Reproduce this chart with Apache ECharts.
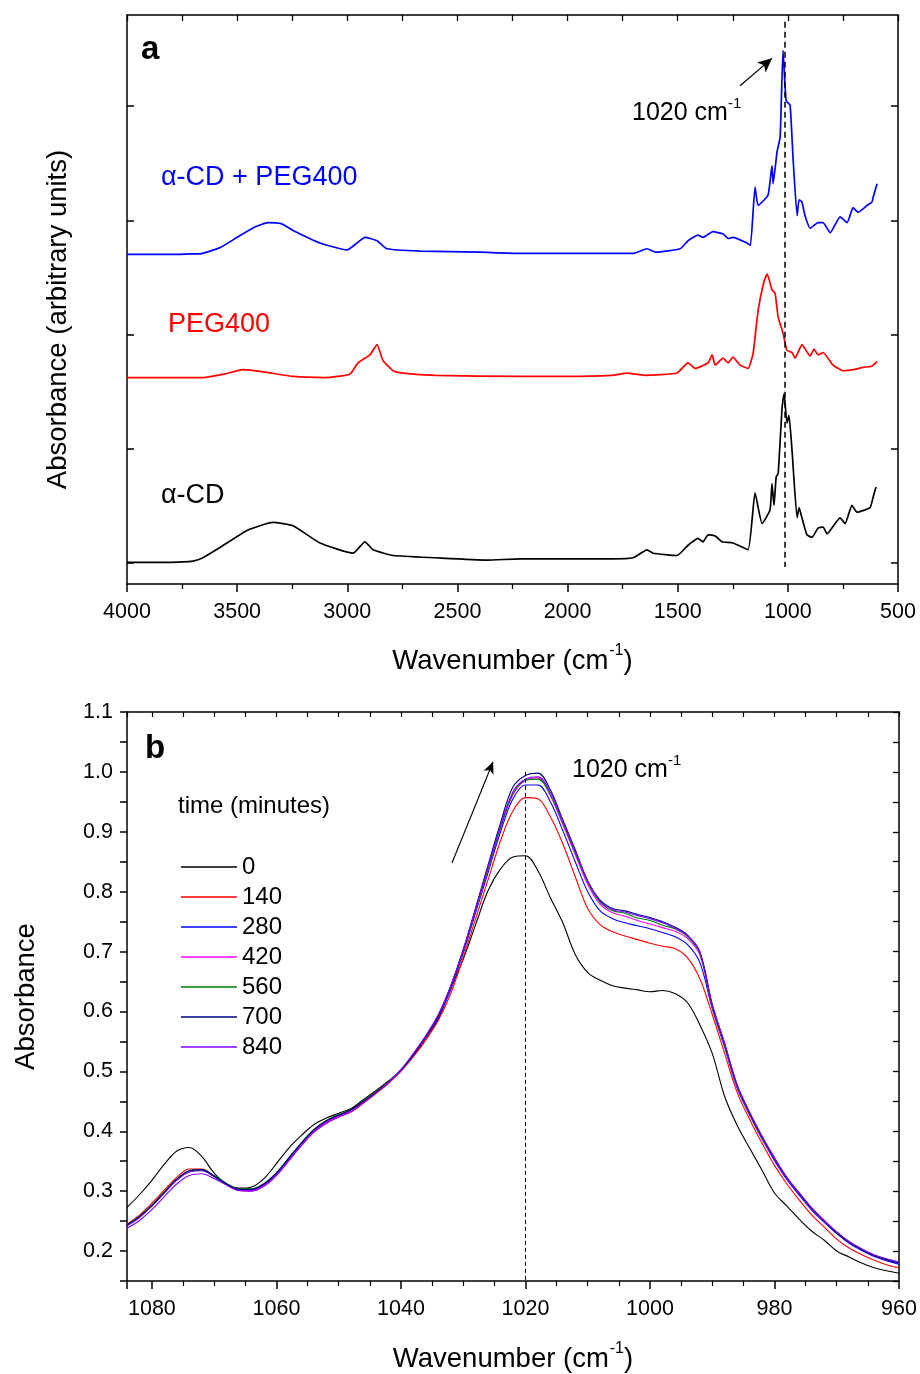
<!DOCTYPE html>
<html><head><meta charset="utf-8">
<script src="https://cdn.jsdelivr.net/npm/echarts@6/dist/echarts.min.js"></script>
<style>html,body{margin:0;padding:0;background:#fff}#c{width:920px;height:1374px}</style>
</head><body><div id="c"></div>
<script>
const FONT = '"Liberation Sans", Arial, Helvetica, sans-serif';

// ---------- Panel a : FTIR spectra (offset, arbitrary units) ----------
const cdPegWn  = [4000,3800,3700,3655,3578,3500,3420,3360,3300,3246,3124,3001,2956,2920,2865,2820,2670,2400,2216,2000,1800,1700,1639,1600,1489,1453,1408,1385,1340,1294,1271,1249,1185,1170,1149,1135,1090,1072,1067,1049,1035,1022,1008,990,976,958,949,936,922,899,863,840,808,763,731,704,681,640,618,613,595];
const cdPegAbs = [2.70,2.70,2.705,2.71,2.76,2.85,2.94,2.98,2.97,2.91,2.80,2.74,2.80,2.85,2.82,2.75,2.73,2.72,2.71,2.71,2.71,2.71,2.75,2.72,2.75,2.82,2.87,2.85,2.90,2.88,2.84,2.85,2.80,2.78,3.29,3.13,3.22,3.48,3.32,3.60,3.73,4.49,4.05,4.01,3.53,3.04,3.18,3.16,3.04,2.93,2.98,2.98,2.89,3.03,2.98,3.11,3.07,3.13,3.16,3.20,3.32];

const pegWn  = [4000,3800,3655,3560,3473,3380,3246,3100,2988,2951,2897,2865,2838,2792,2747,2600,2216,2000,1800,1730,1650,1503,1453,1421,1362,1344,1330,1294,1271,1249,1217,1181,1158,1135,1110,1094,1072,1058,1044,1022,1004,981,967,936,899,881,863,840,795,749,700,659,620,595];
const pegAbs = [1.62,1.62,1.62,1.65,1.69,1.67,1.63,1.62,1.65,1.75,1.82,1.91,1.77,1.68,1.66,1.64,1.63,1.63,1.64,1.66,1.64,1.66,1.75,1.70,1.75,1.82,1.73,1.79,1.75,1.80,1.73,1.70,1.83,2.21,2.45,2.53,2.39,2.36,2.15,2.01,1.86,1.84,1.79,1.91,1.81,1.87,1.82,1.84,1.73,1.68,1.69,1.71,1.72,1.76];

const cdWn  = [4000,3800,3700,3655,3578,3455,3337,3246,3124,2974,2920,2883,2792,2600,2366,2216,2000,1800,1703,1639,1612,1503,1453,1408,1385,1362,1330,1299,1249,1181,1149,1117,1081,1072,1063,1053,1044,1026,1017,1004,995,981,958,949,936,913,890,863,840,822,763,740,709,686,627,613,600];
const cdAbs = [0.00,0.00,0.01,0.04,0.13,0.28,0.35,0.32,0.17,0.08,0.18,0.11,0.06,0.04,0.02,0.03,0.03,0.03,0.04,0.11,0.08,0.06,0.15,0.21,0.18,0.24,0.23,0.18,0.17,0.11,0.61,0.34,0.46,0.69,0.50,0.75,0.78,1.36,1.48,1.22,1.29,0.98,0.39,0.48,0.39,0.24,0.22,0.30,0.31,0.25,0.39,0.34,0.50,0.44,0.48,0.57,0.66];

const xTicksA = [4000,3500,3000,2500,2000,1500,1000,500];

// ---------- Panel b : 1020 cm-1 band vs time ----------
const wnB = [1084,1082,1080,1078,1076,1074,1072,1070,1068,1066,1064,1062,1060,1058,1056,1054,1052,1050,1048,1046,1044,1042,1040,1038,1036,1034,1032,1030,1028,1026,1024,1022,1020,1018,1016,1014,1012,1010,1008,1006,1004,1002,1000,998,996,994,992,990,988,986,984,982,980,978,976,974,972,970,968,966,964,962,960];
const timeLabels = ['0','140','280','420','560','700','840'];
const abs0 = [0.273,0.294,0.318,0.345,0.367,0.373,0.358,0.330,0.312,0.305,0.307,0.321,0.346,0.372,0.393,0.411,0.422,0.430,0.438,0.453,0.468,0.484,0.502,0.525,0.553,0.588,0.638,0.687,0.745,0.802,0.838,0.858,0.860,0.835,0.790,0.748,0.695,0.665,0.652,0.643,0.639,0.636,0.633,0.635,0.630,0.615,0.578,0.530,0.458,0.410,0.372,0.335,0.297,0.275,0.253,0.233,0.218,0.200,0.190,0.180,0.172,0.167,0.163];
const abs140 = [0.245,0.260,0.280,0.302,0.323,0.337,0.337,0.325,0.311,0.302,0.302,0.310,0.327,0.351,0.376,0.399,0.414,0.424,0.432,0.447,0.463,0.480,0.500,0.525,0.553,0.585,0.630,0.690,0.755,0.820,0.885,0.935,0.957,0.955,0.925,0.880,0.825,0.772,0.745,0.733,0.726,0.720,0.714,0.709,0.705,0.690,0.655,0.595,0.530,0.465,0.420,0.380,0.343,0.312,0.285,0.260,0.240,0.220,0.205,0.194,0.185,0.177,0.172];
const abs280 = [0.242,0.256,0.275,0.297,0.318,0.332,0.334,0.324,0.311,0.302,0.302,0.311,0.329,0.354,0.379,0.401,0.416,0.426,0.435,0.449,0.465,0.482,0.502,0.528,0.557,0.590,0.637,0.697,0.765,0.832,0.900,0.955,0.978,0.978,0.950,0.902,0.850,0.800,0.768,0.755,0.748,0.743,0.738,0.732,0.725,0.712,0.682,0.605,0.540,0.472,0.427,0.387,0.351,0.319,0.293,0.268,0.248,0.229,0.213,0.201,0.191,0.184,0.178];
const abs420 = [0.243,0.257,0.276,0.298,0.319,0.333,0.335,0.325,0.311,0.301,0.300,0.309,0.327,0.352,0.377,0.400,0.415,0.425,0.434,0.449,0.465,0.482,0.502,0.528,0.558,0.592,0.640,0.700,0.769,0.838,0.906,0.962,0.986,0.990,0.960,0.912,0.862,0.812,0.779,0.765,0.759,0.752,0.746,0.740,0.734,0.722,0.695,0.607,0.543,0.474,0.428,0.388,0.353,0.321,0.295,0.270,0.249,0.230,0.214,0.202,0.192,0.185,0.180];
const abs560 = [0.244,0.258,0.277,0.299,0.320,0.334,0.336,0.326,0.313,0.304,0.304,0.313,0.331,0.356,0.381,0.403,0.418,0.428,0.436,0.451,0.466,0.483,0.503,0.529,0.559,0.593,0.641,0.701,0.770,0.839,0.907,0.964,0.986,0.988,0.962,0.915,0.865,0.816,0.782,0.768,0.764,0.756,0.752,0.744,0.738,0.725,0.698,0.608,0.544,0.475,0.429,0.389,0.354,0.322,0.296,0.271,0.250,0.231,0.215,0.203,0.193,0.186,0.181];
const abs700 = [0.244,0.258,0.276,0.298,0.320,0.334,0.336,0.325,0.312,0.303,0.303,0.312,0.330,0.355,0.380,0.402,0.417,0.427,0.436,0.450,0.465,0.482,0.502,0.528,0.558,0.593,0.642,0.703,0.773,0.845,0.915,0.975,0.994,0.998,0.970,0.920,0.870,0.818,0.786,0.772,0.768,0.762,0.757,0.750,0.741,0.728,0.700,0.612,0.546,0.477,0.431,0.391,0.355,0.322,0.296,0.271,0.250,0.230,0.214,0.202,0.192,0.185,0.180];
const abs840 = [0.238,0.251,0.269,0.291,0.312,0.326,0.329,0.321,0.310,0.301,0.300,0.308,0.326,0.351,0.376,0.398,0.413,0.424,0.433,0.448,0.464,0.482,0.503,0.530,0.560,0.595,0.643,0.703,0.772,0.842,0.910,0.967,0.988,0.992,0.966,0.918,0.868,0.818,0.784,0.770,0.766,0.760,0.755,0.748,0.739,0.727,0.700,0.612,0.547,0.478,0.432,0.392,0.356,0.323,0.297,0.272,0.251,0.232,0.216,0.204,0.194,0.187,0.182];
const timeColors = ['#000000','#ff0000','#0000ff','#ff00ff','#008000','#000080','#8000ff'];
const xTicksB = [1080,1060,1040,1020,1000,980,960];
const yTicksB = [0.2,0.3,0.4,0.5,0.6,0.7,0.8,0.9,1.0,1.1];

// ---------- build ----------
const pair = (xs, ys) => xs.map((x, i) => [x, ys[i]]);
const axisLine = {show: true, onZero: false, lineStyle: {color: '#000', width: 1.5}};
const supRich = {
  a: {fontSize: 27.5, fontFamily: FONT, color: '#000', lineHeight: 36},
  s: {fontSize: 16, fontFamily: FONT, color: '#000', verticalAlign: 'top', padding: [0, 0, 0, 1]}
};
const wnName = '{a|Wavenumber (cm}{s|-1}{a|)}';
const annRich = {
  a: {fontSize: 25, fontFamily: FONT, fill: '#000', lineHeight: 33},
  s: {fontSize: 15, fontFamily: FONT, fill: '#000', verticalAlign: 'top'}
};

const absB = [abs0, abs140, abs280, abs420, abs560, abs700, abs840];

const series = [
  {name: 'α-CD + PEG400', data: pair(cdPegWn, cdPegAbs), color: '#0000ff'},
  {name: 'PEG400', data: pair(pegWn, pegAbs), color: '#ff0000'},
  {name: 'α-CD', data: pair(cdWn, cdAbs), color: '#000000'}
].map((s, i) => ({
  type: 'line', name: s.name, xAxisIndex: 0, yAxisIndex: 0, data: s.data,
  showSymbol: false, smooth: 0.15, animation: false,
  lineStyle: {color: s.color, width: 1.7}, itemStyle: {color: s.color},
  markLine: i === 2 ? {
    silent: true, animation: false, symbol: ['none', 'none'], label: {show: false},
    data: [
      [{coord: [1014, 4.74], lineStyle: {type: [6, 4], color: '#000', width: 1.5}}, {coord: [1014, -0.04]}],
      [{coord: [1217, 4.18], symbol: 'none', lineStyle: {type: 'solid', color: '#000', width: 1.2}}, {coord: [1072, 4.42], symbol: 'arrow', symbolSize: [10, 14]}]
    ]
  } : undefined
}));

timeLabels.forEach((t, k) => {
  series.push({
    type: 'line', name: t, xAxisIndex: 2, yAxisIndex: 2, data: pair(wnB, absB[k]),
    showSymbol: false, smooth: 0.35, animation: false,
    lineStyle: {color: timeColors[k], width: 1.1}, itemStyle: {color: timeColors[k]},
    markLine: k === 0 ? {
      silent: true, animation: false, symbol: ['none', 'none'], label: {show: false},
      data: [
        [{coord: [1020, 1.0], lineStyle: {type: [4, 3], color: '#000', width: 1}}, {coord: [1020, 0.15]}],
        [{coord: [1031.8, 0.848], symbol: 'none', lineStyle: {type: 'solid', color: '#000', width: 1.1}}, {coord: [1025.2, 1.017], symbol: 'arrow', symbolSize: [8, 12]}]
      ]
    } : undefined
  });
});

const option = {
  animation: false,
  backgroundColor: '#fff',
  textStyle: {fontFamily: FONT},
  grid: [
    {left: 127, top: 15, width: 771, height: 569},
    {left: 127, top: 712, width: 772, height: 569}
  ],
  xAxis: [
    {gridIndex: 0, type: 'value', min: 500, max: 4000, interval: 500, inverse: true, position: 'bottom',
     axisLine, splitLine: {show: false},
     axisTick: {inside: false, length: 8, lineStyle: {color: '#000', width: 1.5}},
     minorTick: {show: true, splitNumber: 2, length: 5, lineStyle: {color: '#000', width: 1.3}},
     axisLabel: {fontSize: 21.5, color: '#000', fontFamily: FONT, margin: 17,
                 formatter: v => xTicksA.includes(v) ? String(v) : ''},
     name: wnName, nameLocation: 'middle', nameGap: 59, nameTextStyle: {rich: supRich}},
    {gridIndex: 0, type: 'value', min: 500, max: 4000, interval: 250, inverse: true, position: 'top',
     axisLine, splitLine: {show: false}, axisLabel: {show: false},
     axisTick: {inside: true, length: 6, lineStyle: {color: '#000', width: 1.3}}},
    {gridIndex: 1, type: 'value', min: 960, max: 1084, interval: 20, inverse: true, position: 'bottom',
     axisLine, splitLine: {show: false},
     axisTick: {inside: false, length: 8, lineStyle: {color: '#000', width: 1.5}},
     minorTick: {show: true, splitNumber: 4, length: 5, lineStyle: {color: '#000', width: 1.2}},
     axisLabel: {fontSize: 21.5, color: '#000', fontFamily: FONT, margin: 17,
                 formatter: v => xTicksB.includes(v) ? String(v) : ''},
     name: wnName, nameLocation: 'middle', nameGap: 60, nameTextStyle: {rich: supRich}},
    {gridIndex: 1, type: 'value', min: 960, max: 1084, interval: 5, inverse: true, position: 'top',
     axisLine, splitLine: {show: false}, axisLabel: {show: false},
     axisTick: {inside: true, length: 5, lineStyle: {color: '#000', width: 1.2}}}
  ],
  yAxis: [
    {gridIndex: 0, type: 'value', min: -0.19, max: 4.8, position: 'left',
     axisLine, splitLine: {show: false},
     axisLabel: {show: false, customValues: [0, 1, 2, 3, 4]},
     axisTick: {inside: true, length: 7, customValues: [0, 1, 2, 3, 4], lineStyle: {color: '#000', width: 1.5}},
     name: 'Absorbance (arbitrary units)', nameLocation: 'middle', nameGap: 55,
     nameTextStyle: {fontSize: 27.5, color: '#000', fontFamily: FONT, padding: [0, 40, 0, 0]}},
    {gridIndex: 0, type: 'value', min: -0.19, max: 4.8, position: 'right',
     axisLine, splitLine: {show: false},
     axisLabel: {show: false, customValues: [0, 1, 2, 3, 4]},
     axisTick: {inside: true, length: 7, customValues: [0, 1, 2, 3, 4], lineStyle: {color: '#000', width: 1.5}}},
    {gridIndex: 1, type: 'value', min: 0.15, max: 1.1, interval: 0.05, position: 'left',
     axisLine, splitLine: {show: false},
     axisTick: {inside: false, length: 7, lineStyle: {color: '#000', width: 1.5}},
     axisLabel: {fontSize: 21.5, color: '#000', fontFamily: FONT, margin: 14,
                 formatter: v => { const r = Math.round(v * 10) / 10; return (Math.abs(v - r) < 1e-6 && yTicksB.some(t => Math.abs(t - r) < 1e-6)) ? r.toFixed(1) : ''; }},
     name: 'Absorbance', nameLocation: 'middle', nameGap: 87,
     nameTextStyle: {fontSize: 27.5, color: '#000', fontFamily: FONT}},
    {gridIndex: 1, type: 'value', min: 0.15, max: 1.1, interval: 0.05, position: 'right',
     axisLine, splitLine: {show: false}, axisLabel: {show: false},
     axisTick: {inside: true, length: 6, lineStyle: {color: '#000', width: 1.3}}}
  ],
  legend: {
    data: timeLabels, orient: 'vertical', left: 176, top: 850,
    icon: 'rect', itemWidth: 56, itemHeight: 1.5, itemGap: 6,
    textStyle: {fontSize: 24, color: '#000', fontFamily: FONT, lineHeight: 24},
    selectedMode: false
  },
  graphic: [
    {type: 'text', x: 141, y: 50, style: {text: 'a', font: 'bold 33px ' + FONT, fill: '#000', verticalAlign: 'middle'}},
    {type: 'text', x: 145, y: 749, style: {text: 'b', font: 'bold 33px ' + FONT, fill: '#000', verticalAlign: 'middle'}},
    {type: 'text', x: 161, y: 178, style: {text: 'α-CD + PEG400', font: '27px ' + FONT, fill: '#0000ff', verticalAlign: 'middle'}},
    {type: 'text', x: 168, y: 325, style: {text: 'PEG400', font: '27px ' + FONT, fill: '#ff0000', verticalAlign: 'middle'}},
    {type: 'text', x: 161, y: 496, style: {text: 'α-CD', font: '27px ' + FONT, fill: '#000', verticalAlign: 'middle'}},
    {type: 'text', x: 632, y: 113, style: {text: '{a|1020 cm}{s|-1}', rich: annRich, verticalAlign: 'middle'}},
    {type: 'text', x: 572, y: 770, style: {text: '{a|1020 cm}{s|-1}', rich: annRich, verticalAlign: 'middle'}},
    {type: 'text', x: 178, y: 806, style: {text: 'time (minutes)', font: '24px ' + FONT, fill: '#000', verticalAlign: 'middle'}}
  ],
  series
};

const chart = echarts.init(document.getElementById('c'), null, {renderer: 'canvas'});
chart.setOption(option);
</script>
</body></html>
